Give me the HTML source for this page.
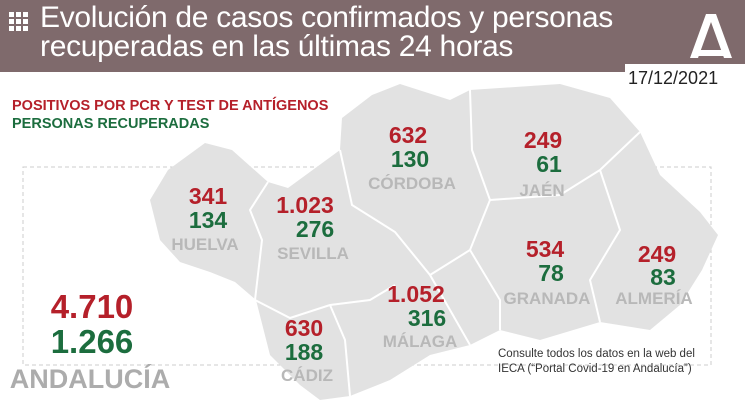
<!DOCTYPE html><html><head><meta charset="utf-8"><style>
body{margin:0;width:745px;height:418px;overflow:hidden;background:#fff;font-family:"Liberation Sans",sans-serif;position:relative}
.t{position:absolute;font-weight:bold;white-space:nowrap;transform:translateX(-50%);line-height:1}
.r{color:#b5202a;font-size:23px}.g{color:#1c6d3e;font-size:23px}.l{color:#b8b8b8;font-size:17px}
</style></head><body>
<div style="position:absolute;left:0;top:0;width:745px;height:64px;background:#7f6a6c"></div>
<div style="position:absolute;left:0;top:64px;width:625px;height:8px;background:#7f6a6c"></div>
<svg style="position:absolute;left:9px;top:12px" width="20" height="20"><g fill="#fff"><rect x="0" y="0" width="5" height="5"/><rect x="7" y="0" width="5" height="5"/><rect x="14" y="0" width="5" height="5"/><rect x="0" y="7" width="5" height="5"/><rect x="7" y="7" width="5" height="5"/><rect x="14" y="7" width="5" height="5"/><rect x="0" y="14" width="5" height="5"/><rect x="7" y="14" width="5" height="5"/><rect x="14" y="14" width="5" height="5"/></g></svg>
<div style="position:absolute;left:40px;top:3px;color:#fff;font-size:30px;line-height:29px;letter-spacing:-0.3px">Evolución de casos confirmados y personas<br>recuperadas en las últimas 24 horas</div>
<svg style="position:absolute;left:688px;top:12px" width="46" height="48"><path d="M18 2h10l16 44h-8l-13-36-13 36h-8z" fill="#fff"/><path d="M10 38h26v6H10z" fill="#fff"/></svg>
<div style="position:absolute;left:628px;top:68px;font-size:18px;color:#222">17/12/2021</div>
<div style="position:absolute;left:12px;top:97px;font-size:14.5px;font-weight:bold;color:#b5202a;line-height:18px">POSITIVOS POR PCR Y TEST DE ANTÍGENOS</div>
<div style="position:absolute;left:12px;top:115px;font-size:14.5px;font-weight:bold;color:#1c6d3e;line-height:18px">PERSONAS RECUPERADAS</div>
<svg style="position:absolute;left:0;top:0" width="745" height="418">
<rect x="23" y="167" width="688" height="198" fill="none" stroke="#ccc" stroke-dasharray="4 3"/>
<polygon fill="#e2e2e2" points="205,143 232,150 268,182 288,188 340,150 342,118 372,95 400,84 450,100 470,90 560,84 610,98 640,132 660,175 700,212 718,235 702,270 680,305 650,330 600,322 540,340 500,330 470,345 430,355 390,380 350,396 320,400 300,385 270,355 256,300 235,282 210,272 180,262 160,240 150,200 168,170"/>
<g fill="none" stroke="#fff" stroke-width="2">
<path d="M268,182 L250,210 L262,240 L255,300"/>
<path d="M340,150 L352,205 L395,232 L430,275 L470,345"/>
<path d="M255,300 L290,318 L330,305 L370,300 L395,285"/>
<path d="M330,305 L345,340 L350,396"/>
<path d="M470,90 L472,150 L490,200 L470,250 L430,275"/>
<path d="M490,200 L560,195 L600,170 L640,132"/>
<path d="M470,250 L500,300 L500,330"/>
<path d="M600,170 L620,230 L590,280 L600,322"/>
</g></svg>
<div class="t r" style="left:408px;top:124px">632</div><div class="t g" style="left:410px;top:148px">130</div><div class="t l" style="left:412px;top:175px">CÓRDOBA</div>
<div class="t r" style="left:543px;top:129px">249</div><div class="t g" style="left:549px;top:153px">61</div><div class="t l" style="left:542px;top:182px">JAÉN</div>
<div class="t r" style="left:208px;top:185px">341</div><div class="t g" style="left:208px;top:209px">134</div><div class="t l" style="left:205px;top:236px">HUELVA</div>
<div class="t r" style="left:305px;top:194px">1.023</div><div class="t g" style="left:315px;top:218px">276</div><div class="t l" style="left:313px;top:245px">SEVILLA</div>
<div class="t r" style="left:545px;top:238px">534</div><div class="t g" style="left:551px;top:262px">78</div><div class="t l" style="left:547px;top:290px">GRANADA</div>
<div class="t r" style="left:657px;top:243px">249</div><div class="t g" style="left:663px;top:266px">83</div><div class="t l" style="left:654px;top:290px">ALMERÍA</div>
<div class="t r" style="left:416px;top:283px">1.052</div><div class="t g" style="left:427px;top:307px">316</div><div class="t l" style="left:420px;top:333px">MÁLAGA</div>
<div class="t r" style="left:304px;top:317px">630</div><div class="t g" style="left:304px;top:341px">188</div><div class="t l" style="left:307px;top:367px">CÁDIZ</div>
<div class="t r" style="left:92px;top:290px;font-size:33px">4.710</div>
<div class="t g" style="left:92px;top:325px;font-size:33px">1.266</div>
<div class="t l" style="left:90px;top:366px;font-size:27px;color:#acacac">ANDALUCÍA</div>
<div style="position:absolute;left:498px;top:347px;font-size:11.5px;line-height:15px;color:#333">Consulte todos los datos en la web del<br>IECA (“Portal Covid-19 en Andalucía”)</div>
</body></html>
